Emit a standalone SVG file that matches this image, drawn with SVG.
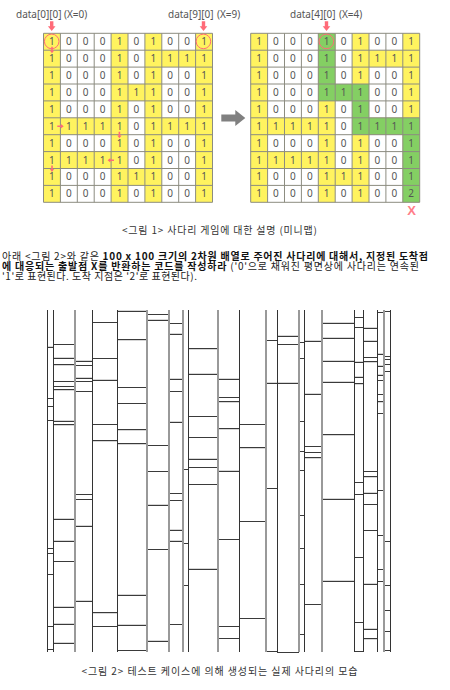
<svg xmlns="http://www.w3.org/2000/svg" xmlns:xlink="http://www.w3.org/1999/xlink" width="450" height="690" viewBox="0 0 450 690">
<style>
text{font-family:"Noto Sans CJK KR","Noto Sans",sans-serif;fill:#333}
.lab{font-family:"Noto Sans","Liberation Sans",sans-serif;font-size:10px;fill:#555}
.cell{font-family:"Noto Sans","Liberation Sans",sans-serif;font-size:10px;fill:#555;text-anchor:middle}
.cap{font-size:10px;fill:#333}
.para{font-size:10px;fill:#222}
.b{font-weight:700;fill:#111}
.pk{fill:#ff6b78}
.pks{stroke:#ff6b78;fill:none}
.yl{fill:#fff35f}
.gr{fill:#84cf63}
.gl{fill:none;stroke:#8c8c80;stroke-width:1}
.vd{stroke:#333;stroke-width:1;shape-rendering:crispEdges}
.vg{stroke:#999;stroke-width:2;shape-rendering:crispEdges}
.r{fill:none;stroke:#3a3a3a;stroke-width:1;shape-rendering:crispEdges}
.rs{fill:none;stroke:#d6d6d6;stroke-width:1;shape-rendering:crispEdges}
</style>
<defs>
<path id="ad" d="M-1.7 0h3.4v5h2.1l-3.8 4.6-3.8-4.6h2.1z"/>
<path id="as" d="M-.8 0h1.6v3.6h1.4l-2.2 2.8-2.2-2.8h1.4z"/>
<path id="yel" class="yl" d="M0 0h16.9v169h-16.9zM67.6 0h16.9v169h-16.9zM101.4 0h16.9v169h-16.9zM152.1 0h16.9v169h-16.9zM118.3 16.9h33.8v16.9h-33.8zM84.5 50.7h16.9v16.9h-16.9zM16.9 84.5h50.7v16.9h-50.7zM118.3 84.5h33.8v16.9h-33.8zM16.9 118.3h50.7v16.9h-50.7zM84.5 135.2h16.9v16.9h-16.9z"/>
<g id="tbl">
<path class="gl" d="M0 0h169v169h-169zM16.9 0v169M33.8 0v169M50.7 0v169M67.6 0v169M84.5 0v169M101.4 0v169M118.3 0v169M135.2 0v169M152.1 0v169M0 16.9h169M0 33.8h169M0 50.7h169M0 67.6h169M0 84.5h169M0 101.4h169M0 118.3h169M0 135.2h169M0 152.1h169"/>
<text class="cell" x="8.4 25.3 42.2 59.1 76 92.9 109.8 126.7 143.6 160.5" y="12">1000101001</text>
<text class="cell" x="8.4 25.3 42.2 59.1 76 92.9 109.8 126.7 143.6 160.5" y="28.9">1000101111</text>
<text class="cell" x="8.4 25.3 42.2 59.1 76 92.9 109.8 126.7 143.6 160.5" y="45.8">1000101001</text>
<text class="cell" x="8.4 25.3 42.2 59.1 76 92.9 109.8 126.7 143.6 160.5" y="62.7">1000111001</text>
<text class="cell" x="8.4 25.3 42.2 59.1 76 92.9 109.8 126.7 143.6 160.5" y="79.6">1000101001</text>
<text class="cell" x="8.4 25.3 42.2 59.1 76 92.9 109.8 126.7 143.6 160.5" y="96.5">1111101111</text>
<text class="cell" x="8.4 25.3 42.2 59.1 76 92.9 109.8 126.7 143.6 160.5" y="113.4">1000101001</text>
<text class="cell" x="8.4 25.3 42.2 59.1 76 92.9 109.8 126.7 143.6 160.5" y="130.3">1111101001</text>
<text class="cell" x="8.4 25.3 42.2 59.1 76 92.9 109.8 126.7 143.6 160.5" y="147.2">1000111001</text>
<text class="cell" x="8.4 25.3 42.2 59.1 76 92.9 109.8 126.7 143.6" y="164.1">100010100</text>
</g>
</defs>

<g id="grid-before" transform="translate(43.5 33.3)">
<use xlink:href="#yel"/>
<use xlink:href="#tbl"/>
<text class="cell" x="160.5" y="164.1">1</text>
</g>
<g id="grid-after" transform="translate(250.7 33.3)">
<use xlink:href="#yel"/>
<path class="gr" d="M67.6 0h16.9v67.6h-16.9zM84.5 50.7h33.8v16.9h-33.8zM101.4 67.6h16.9v33.8h-16.9zM118.3 84.5h50.7v16.9h-50.7zM152.1 101.4h16.9v67.6h-16.9z"/>
<use xlink:href="#tbl"/>
<text class="cell" x="160.5" y="164.1">2</text>
</g>

<g id="labels">
<text class="lab" x="16" y="17.5">data[0][0]</text>
<text class="lab" x="64" y="17.5">(X=0)</text>
<text class="lab" x="168" y="17.5">data[9][0]</text>
<text class="lab" x="217" y="17.5">(X=9)</text>
<text class="lab" x="290" y="17.5">data[4][0]</text>
<text class="lab" x="339" y="17.5">(X=4)</text>
</g>

<g id="markers">
<use class="pk" xlink:href="#ad" x="51.7" y="21.3"/>
<use class="pk" xlink:href="#ad" x="203.5" y="21.3"/>
<use class="pk" xlink:href="#ad" x="326.5" y="21.3"/>
<circle class="pks" cx="51.7" cy="41.4" r="7.3"/>
<circle class="pks" cx="203.4" cy="41.4" r="7.3"/>
<circle class="pks" cx="326.4" cy="41.4" r="7.3"/>
<use class="pk" xlink:href="#as" x="52" y="46.8"/>
<use class="pk" xlink:href="#as" transform="translate(57.3 126.3) rotate(-90)"/>
<use class="pk" xlink:href="#as" x="119.4" y="131.8"/>
<use class="pk" xlink:href="#as" transform="translate(114 160.3) rotate(90)"/>
<use class="pk" xlink:href="#as" x="52" y="165.5"/>
<path id="big-arrow" fill="#808080" d="M221.3 114.5h14v-4.5l10 8-10 8v-4.5h-14z"/>
<text x="411.7" y="215.3" text-anchor="middle" style="font-family:'Liberation Sans',sans-serif;font-size:13px;font-weight:700;fill:#ff7d88">X</text>
</g>

<g id="text">
<text class="cap" x="122" y="233.5" textLength="195" lengthAdjust="spacing">&lt;그림 1&gt; 사다리 게임에 대한 설명 (미니맵)</text>
<text class="para" x="2" y="259.5" textLength="426" lengthAdjust="spacing">아래 &lt;그림 2&gt;와 같은 <tspan class="b">100 x 100 크기의 2차원 배열로 주어진 사다리에 대해서, 지정된 도착점</tspan></text>
<text class="para" x="2" y="269.5" textLength="417" lengthAdjust="spacing"><tspan class="b">에 대응되는 출발점 X를 반환하는 코드를 작성하라</tspan> ('0'으로 채워진 평면상에 사다리는 연속된</text>
<text class="para" x="2" y="279.5" textLength="195" lengthAdjust="spacing">'1'로 표현된다. 도착 지점은 '2'로 표현된다).</text>
<text class="cap" x="81.5" y="675" textLength="276" lengthAdjust="spacing">&lt;그림 2&gt; 테스트 케이스에 의해 생성되는 실제 사다리의 모습</text>
</g>

<g id="ladder">
<path class="rs" d="M47.3 346.3H53.3M53.3 357.7H74.7M53.3 365.7H74.7M53.3 390.7H74.7M53.3 420.3H74.7M53.3 425.7H74.7M53.3 518.3H74.7M53.3 540H74.7M53.3 606H74.7M53.3 623H74.7M53.3 642H74.7
M74.7 360.3H92.3M74.7 377.3H92.3M74.7 525.3H92.3M74.7 600.3H92.3M92.3 379.3H117.3M92.3 441.7H117.3M92.3 613.3H117.3
M117.3 310.7H147M117.3 340.7H147M117.3 430.3H147M117.3 444.7H147M117.3 594H147M117.3 624.3H147M147 319.7H169M147 504H169M147 640H169
M169 333.7H183M169 378.7H183M169 421.3H183M169 529.7H183M169 540.7H183M188.3 349.7H218M188.3 373.7H218M188.3 458.3H218M188.3 568H218
M218 378.7H239.3M218 402.7H239.3M218 429.3H239.3M218 470.3H239.3M239.3 448.3H266M266 382H277.3M277.3 335.7H299M277.3 382.3H299
M304.3 340H322M304.3 393.7H322M304.3 458.7H322M322 322.3H354.7M322 337.3H354.7M322 360.3H354.7M322 381.3H354.7M322 435.7H354.7M322 498.3H354.7M322 580H354.7
M354.7 361.3H363.3M354.7 376.7H363.3M354.7 384.3H363.3M363.3 327H377.7M363.3 340.3H377.7M363.3 362.7H377.7M363.3 477.3H377.7M363.3 492.3H377.7M363.3 583H377.7M363.3 628.7H377.7M363.3 639H377.7
M377.7 353.7H384M377.7 365.7H384M377.7 374.7H384M377.7 402.7H384"/>
<path class="r" d="M47.3 347.3H53.3M47.3 398.7H53.3M47.3 406.7H53.3M47.3 420.3H53.3M47.3 548.7H53.3M47.3 553.3H53.3M47.3 574.7H53.3M47.3 626.7H53.3M47.3 649.7H53.3
M53.3 344.3H74.7M53.3 358.7H74.7M53.3 364.7H74.7M53.3 381.3H74.7M53.3 386.7H74.7M53.3 389.7H74.7M53.3 421.3H74.7M53.3 424.7H74.7M53.3 519.3H74.7M53.3 541H74.7M53.3 561H74.7M53.3 607H74.7M53.3 624H74.7M53.3 643H74.7
M74.7 361.3H92.3M74.7 365.3H92.3M74.7 378.3H92.3M74.7 381.3H92.3M74.7 391.3H92.3M74.7 494.3H92.3M74.7 499.3H92.3M74.7 526.3H92.3M74.7 601.3H92.3
M92.3 322.7H117.3M92.3 358.3H117.3M92.3 380.3H117.3M92.3 424.3H117.3M92.3 440.7H117.3M92.3 612.3H117.3M92.3 626.3H117.3
M117.3 311.7H147M117.3 339.7H147M117.3 387.3H147M117.3 403.3H147M117.3 429.3H147M117.3 443.7H147M117.3 595H147M117.3 625.3H147M117.3 650.7H147
M147 314.3H169M147 320.7H169M147 445.3H169M147 471.3H169M147 505H169M147 549.7H169M147 641H169
M169 323.3H183M169 334.7H183M169 379.7H183M169 391.3H183M169 422.3H183M169 493.3H183M169 500.3H183M169 530.7H183M169 541.7H183M169 624.7H183
M183 469.3H188.3M183 543.3H188.3M183 585.3H188.3
M188.3 348.7H218M188.3 374.7H218M188.3 416.3H218M188.3 437.3H218M188.3 459.3H218M188.3 467.3H218M188.3 484.5H218M188.3 569H218
M218 379.7H239.3M218 397.3H239.3M218 401.7H239.3M218 428.3H239.3M218 471.3H239.3M218 539.3H239.3M218 626.3H239.3M218 638H239.3
M239.3 424.3H266M239.3 447.3H266M239.3 521.3H266M239.3 618.3H266
M266 340.3H277.3M266 383H277.3M266 488.2H277.3M266 651H277.3
M277.3 336.7H299M277.3 344.3H299M277.3 383.3H299M277.3 652H299
M299 342.3H304.3M299 358.3H304.3M299 421.3H304.3M299 451.3H304.3M299 470.3H304.3M299 515H304.3M299 548.3H304.3M299 584.7H304.3M299 634H304.3
M304.3 341H322M304.3 394.7H322M304.3 446.3H322M304.3 452.7H322M304.3 457.7H322M304.3 604H322
M322 323.3H354.7M322 338.3H354.7M322 361.3H354.7M322 382.3H354.7M322 434.7H354.7M322 499.3H354.7M322 581H354.7
M354.7 317.3H363.3M354.7 327.3H363.3M354.7 362.3H363.3M354.7 377.7H363.3M354.7 383.3H363.3M354.7 482.3H363.3M354.7 494.3H363.3M354.7 557.3H363.3M354.7 622H363.3M354.7 651.3H363.3
M363.3 328H377.7M363.3 341.3H377.7M363.3 357.3H377.7M363.3 361.7H377.7M363.3 471.3H377.7M363.3 476.3H377.7M363.3 493.3H377.7M363.3 504.3H377.7M363.3 530.3H377.7M363.3 584H377.7M363.3 629.7H377.7M363.3 638H377.7
M377.7 312.3H384M377.7 354.7H384M377.7 366.7H384M377.7 375.7H384M377.7 380.3H384M377.7 394.3H384M377.7 401.7H384M377.7 413.3H384M377.7 490.3H384M377.7 535.3H384M377.7 569.3H384M377.7 581H384
M384 311.7H390.3M384 356.3H390.3M384 359.3H390.3M384 364H390.3M384 371.3H390.3M384 541.3H390.3M384 585.3H390.3M384 610H390.3M384 631.3H390.3M384 650.7H390.3"/>
<path class="vd" d="M47.3 310V652M53.3 310V652M92.3 310V652M117.3 310V652M188.3 310V652M239.3 310V652M277.3 310V652M304.3 310V652M354.7 310V652M363.3 310V652M377.7 310V652M390.3 310V652"/>
<path class="vg" d="M74.7 310V652M147 310V652M169 310V652M183 310V652M218 310V652M266 310V652M299 310V652M322 310V652M384 310V652"/>
</g>
</svg>
